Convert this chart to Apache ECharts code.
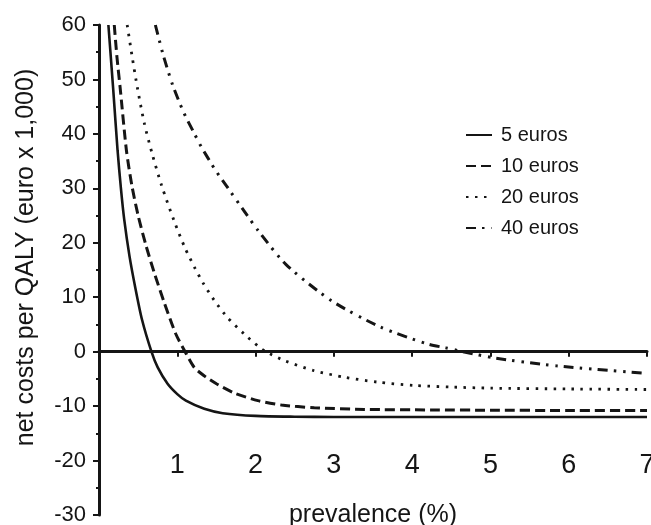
<!DOCTYPE html>
<html>
<head>
<meta charset="utf-8">
<script src="https://cdn.jsdelivr.net/npm/echarts@6/dist/echarts.min.js"></script>
<style>
  html, body { margin: 0; padding: 0; background: #fff; }
  #chart { width: 651px; height: 525px; }
</style>
</head>
<body>
<div id="chart"></div>
<script>
// 범례 이름
var seriesNames = ['5 euros', '10 euros', '20 euros', '40 euros'];

// [prevalence (%), net costs per QALY (x 1,000 euro)]
var data5 = [
  [0.12, 60], [0.18, 48.5], [0.237, 37], [0.28, 30], [0.322, 24.3], [0.39, 17.5],
  [0.463, 11.8], [0.549, 5.9], [0.67, 0], [0.75, -2.9], [0.876, -5.9], [1.0, -7.8],
  [1.11, -9.0], [1.345, -10.5], [1.58, -11.3], [2.0, -11.8], [2.5, -11.95],
  [3, -12], [4, -12], [5, -12], [6, -12], [7, -12]
];

var data10 = [
  [0.195, 60], [0.23, 54], [0.27, 48.5], [0.35, 37], [0.42, 30.5], [0.50, 25],
  [0.60, 19.5], [0.706, 14.5], [0.834, 9], [0.983, 3.2], [1.10, 0], [1.217, -2.9],
  [1.35, -4.5], [1.5, -5.9], [1.73, -7.6], [2.03, -9.0], [2.33, -9.8], [2.75, -10.3],
  [3.39, -10.6], [4.24, -10.7], [5, -10.75], [6, -10.8], [7, -10.8]
];

var data20 = [
  [0.36, 60], [0.42, 54.5], [0.49, 48.5], [0.578, 42], [0.68, 36.3], [0.80, 30.5],
  [0.96, 24], [1.10, 19], [1.22, 15.5], [1.33, 12.6], [1.473, 9.4], [1.64, 6.3],
  [1.857, 3.2], [2.05, 0.8], [2.13, 0], [2.37, -1.65], [2.75, -3.5], [3.14, -4.7],
  [3.56, -5.6], [4.03, -6.2], [4.5, -6.5], [5, -6.7], [6, -6.85], [7, -6.95]
];

var data40 = [
  [0.72, 60], [0.82, 54.5], [0.94, 49], [1.08, 44], [1.22, 40], [1.30, 37.8],
  [1.48, 33.5], [1.65, 30], [1.83, 26.3], [2.03, 22.3], [2.39, 16], [2.965, 9.4],
  [3.60, 4.5], [4.2, 1.4], [4.43, 0.7], [4.65, 0], [5.07, -1.2], [5.84, -2.6], [7, -4.0]
];

var FONT = 'Liberation Sans, Arial, Helvetica, sans-serif';
var INK = '#151515';

var chart = echarts.init(document.getElementById('chart'));

function lineSeries(name, data, dash, width) {
  return {
    name: name,
    type: 'line',
    xAxisIndex: 1,
    data: data,
    showSymbol: false,
    symbol: 'none',
    smooth: 0.25,
    clip: true,
    lineStyle: { color: INK, width: width, type: dash, cap: 'butt' },
    itemStyle: { color: INK }
  };
}

var option = {
  animation: false,
  backgroundColor: '#fff',
  textStyle: { fontFamily: FONT },
  grid: { left: 99, right: 4, top: 25, bottom: 10, containLabel: false, outerBoundsMode: 'none' },
  legend: {
    orient: 'vertical',
    left: 460,
    top: 120,
    itemWidth: 26,
    itemHeight: 14,
    itemGap: 11,
    itemStyle: { color: 'rgba(0,0,0,0)', borderWidth: 0, opacity: 0 },
    textStyle: { fontFamily: FONT, fontSize: 20, color: INK, padding: [0, 0, 0, 4] },
    data: seriesNames
  },
  xAxis: [
    {
      // 눈금 라벨과 축 이름
      type: 'value',
      min: 0,
      max: 7,
      interval: 1,
      position: 'bottom',
      offset: -63,
      axisLine: { show: false, onZero: false },
      axisTick: { show: false },
      splitLine: { show: false },
      axisLabel: {
        margin: 0,
        fontFamily: FONT,
        fontSize: 27,
        color: INK,
        formatter: function (v) { return v === 0 ? '' : v; }
      },
      name: 'prevalence (%)',
      nameLocation: 'middle',
      nameGap: 51,
      nameTextStyle: { fontFamily: FONT, fontSize: 25, color: INK }
    },
    {
      // y=0 위의 축선
      type: 'value',
      min: 0,
      max: 7,
      interval: 1,
      position: 'bottom',
      axisLine: { show: true, onZero: true, lineStyle: { color: INK, width: 3 } },
      axisTick: { show: true, length: 5, lineStyle: { color: INK, width: 2 } },
      axisLabel: { show: false },
      splitLine: { show: false }
    }
  ],
  yAxis: {
    type: 'value',
    min: -30,
    max: 60,
    interval: 10,
    axisLine: { show: true, onZero: false, lineStyle: { color: INK, width: 3 } },
    axisTick: { show: true, length: 6, lineStyle: { color: INK, width: 2 } },
    minorTick: { show: true, splitNumber: 2, length: 3, lineStyle: { color: INK, width: 2 } },
    splitLine: { show: false },
    axisLabel: { margin: 13, fontFamily: FONT, fontSize: 22, color: INK },
    name: 'net costs per QALY (euro x 1,000)',
    nameLocation: 'middle',
    nameGap: 60,
    nameTextStyle: { fontFamily: FONT, fontSize: 25, color: INK, padding: [0, 0, 0, 25] }
  },
  series: [
    lineSeries(seriesNames[0], data5, 'solid', 2.6),
    lineSeries(seriesNames[1], data10, [10, 5], 3),
    lineSeries(seriesNames[2], data20, [2.5, 6.5], 2.8),
    lineSeries(seriesNames[3], data40, [10, 6, 2.5, 7, 2.5, 6], 3)
  ]
};

chart.setOption(option);
</script>
</body>
</html>
